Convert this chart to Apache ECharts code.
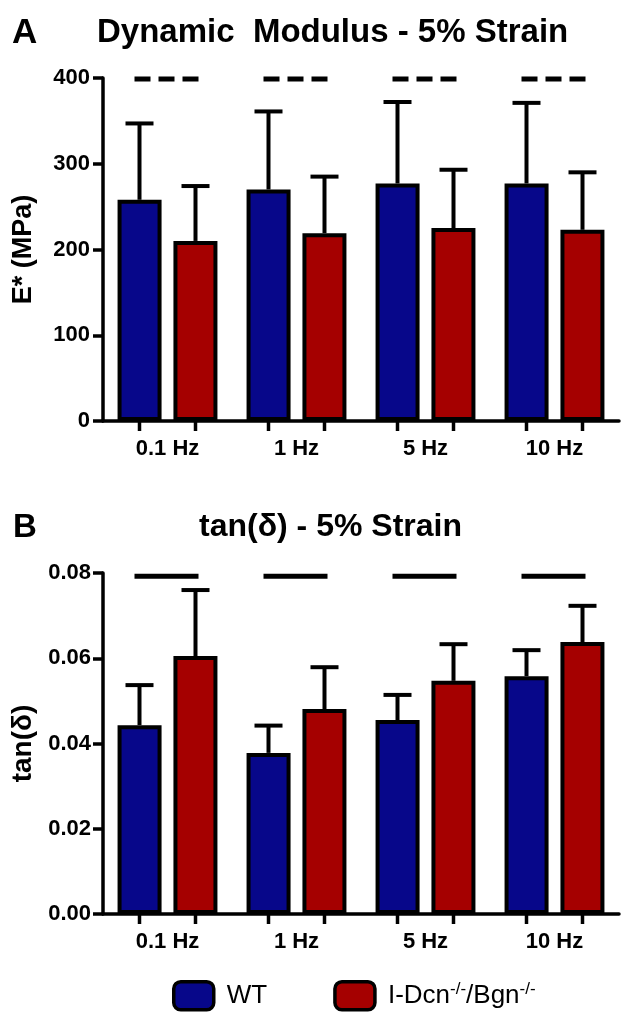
<!DOCTYPE html>
<html><head><meta charset="utf-8">
<script src="https://cdn.jsdelivr.net/npm/echarts@6/dist/echarts.min.js"></script>
<style>html,body{margin:0;padding:0;background:#fff}#c{width:638px;height:1020px}</style>
</head><body><div id="c"></div>
<script>
// ---------- data ----------
const categories = ['0.1 Hz', '1 Hz', '5 Hz', '10 Hz'];
const groupNames = ['WT', 'I-Dcn-/-/Bgn-/-'];
// Panel A: dynamic modulus E* (MPa), mean and SD
const modulusWT = [258, 270, 277, 277];
const modulusWTsd = [89, 91, 95, 94];
const modulusKO = [210, 219, 225, 223];
const modulusKOsd = [64, 66, 68, 67];
const modulusSig = [400, 400, 400, 400];
const modulusTicks = [0, 100, 200, 300, 400];
// Panel B: tan(delta), mean and SD
const tanWT = [0.0443, 0.0378, 0.0455, 0.0558];
const tanWTsd = [0.0094, 0.0064, 0.0059, 0.0061];
const tanKO = [0.0605, 0.0481, 0.0547, 0.0638];
const tanKOsd = [0.0155, 0.0098, 0.0086, 0.0085];
const tanSig = [0.0795, 0.0795, 0.0795, 0.0795];
const tanTicks = ['0.00', '0.02', '0.04', '0.06', '0.08'];

// ---------- style ----------
const FONT = '"Liberation Sans", Arial, sans-serif';
const BLUE = '#07078a';
const RED = '#a50000';
const BAR_W = 44;
const HALF = 28;   // px from category centre to bar centre

const chart = echarts.init(document.getElementById('c'));

function errRender(offset) {
  return function (params, api) {
    const i = api.value(0), m = api.value(1), sd = api.value(2);
    const b = api.coord([i, m]);
    const t = api.coord([i, m + sd]);
    const x = b[0] + offset;
    return {
      type: 'group',
      children: [
        { type: 'line', shape: { x1: x, y1: b[1], x2: x, y2: t[1] }, style: { stroke: '#000', lineWidth: 4 } },
        { type: 'line', shape: { x1: x - 14, y1: t[1], x2: x + 14, y2: t[1] }, style: { stroke: '#000', lineWidth: 4 } }
      ]
    };
  };
}
function sigRender(dashed) {
  return function (params, api) {
    const i = api.value(0), v = api.value(1);
    const p = api.coord([i, v]);
    return {
      type: 'line',
      shape: { x1: p[0] - 33, y1: p[1] + 1, x2: p[0] + 31, y2: p[1] + 1 },
      style: { stroke: '#000', lineWidth: 5, lineDash: dashed ? [16, 8] : null }
    };
  };
}
function tickRender(params, api) {
  const i = api.value(0);
  const p = api.coord([i, api.value(1)]);
  return {
    type: 'group',
    children: [-HALF, HALF].map(o => ({
      type: 'line', shape: { x1: p[0] + o, y1: p[1], x2: p[0] + o, y2: p[1] + 10 },
      style: { stroke: '#000', lineWidth: 3.5 }
    }))
  };
}

function panelSeries(idx, wt, wtsd, ko, kosd, sig, dashed, base) {
  const common = { xAxisIndex: idx, yAxisIndex: idx };
  return [
    Object.assign({ type: 'bar', name: groupNames[0], data: wt, barWidth: BAR_W, barGap: '27%',
      itemStyle: { color: BLUE, borderColor: '#000', borderWidth: 4 }, z: 3 }, common),
    Object.assign({ type: 'bar', name: groupNames[1], data: ko, barWidth: BAR_W, barGap: '27%',
      itemStyle: { color: RED, borderColor: '#000', borderWidth: 4 }, z: 3 }, common),
    Object.assign({ type: 'custom', renderItem: errRender(-HALF), z: 2,
      encode: { x: 0, y: 1 }, data: categories.map((c, i) => [i, wt[i], wtsd[i]]) }, common),
    Object.assign({ type: 'custom', renderItem: errRender(HALF), z: 2,
      encode: { x: 0, y: 1 }, data: categories.map((c, i) => [i, ko[i], kosd[i]]) }, common),
    Object.assign({ type: 'custom', renderItem: sigRender(dashed), z: 4,
      encode: { x: 0, y: 1 }, data: categories.map((c, i) => [i, sig[i]]) }, common),
    Object.assign({ type: 'custom', renderItem: tickRender, z: 4, clip: false,
      encode: { x: 0, y: 1 }, data: categories.map((c, i) => [i, base]) }, common)
  ];
}

const labelBase = { fontFamily: FONT, fontWeight: 'bold', color: '#000' };

function xAxisDef(grid) {
  return {
    type: 'category', gridIndex: grid, data: categories,
    axisLine: { lineStyle: { color: '#000', width: 3.5 } },
    axisTick: { show: false },
    axisLabel: Object.assign({ margin: 17, fontSize: 22 }, labelBase),
    splitLine: { show: false }
  };
}

const titleStyle = { fontFamily: FONT, fontWeight: 'bold', fontSize: 33, color: '#000' };

const option = {
  backgroundColor: '#fff',
  animation: false,
  title: [
    { text: 'A', left: 7, top: 11, textStyle: Object.assign({}, titleStyle, { fontSize: 35 }) },
    { text: 'Dynamic  Modulus - 5% Strain', left: 92, top: 11, textStyle: titleStyle },
    { text: 'B', left: 8, top: 506, textStyle: titleStyle },
    { text: 'tan(δ) - 5% Strain', left: 194, top: 506, textStyle: Object.assign({}, titleStyle, { fontSize: 32 }) }
  ],
  legend: {
    left: 167, top: 975, itemWidth: 40, itemHeight: 28, itemGap: 66,
    icon: 'roundRect',
    data: [
      { name: groupNames[0], itemStyle: { color: BLUE, borderColor: '#000', borderWidth: 3.5 } },
      { name: groupNames[1], itemStyle: { color: RED, borderColor: '#000', borderWidth: 3.5 } }
    ],
    formatter: function (name) {
      if (name === groupNames[0]) return '{n|WT}';
      return '{n|I-Dcn}{s|-/-}{n|/Bgn}{s|-/-}';
    },
    textStyle: {
      rich: {
        n: { fontFamily: FONT, fontSize: 26, color: '#000', lineHeight: 30 },
        s: { fontFamily: FONT, fontSize: 17, color: '#000', lineHeight: 30, verticalAlign: 'top', padding: [0, 0, 12, 0] }
      },
      padding: [0, 0, 0, 8]
    }
  },
  grid: [
    { left: 103, right: 19, top: 78, bottom: 599, outerBoundsMode: 'none', containLabel: false },
    { left: 103, right: 19, top: 573, bottom: 106, outerBoundsMode: 'none', containLabel: false }
  ],
  xAxis: [xAxisDef(0), xAxisDef(1)],
  yAxis: [
    {
      type: 'value', gridIndex: 0, min: 0, max: 400, interval: 100,
      name: 'E* (MPa)', nameLocation: 'middle', nameGap: 66,
      nameTextStyle: { fontFamily: FONT, fontWeight: 'bold', fontSize: 27, color: '#000' },
      axisLine: { show: true, lineStyle: { color: '#000', width: 3.5 } },
      axisTick: { show: true, length: 10, lineStyle: { color: '#000', width: 3.5 } },
      axisLabel: Object.assign({ margin: 13, fontSize: 22, formatter: (v) => String(modulusTicks[Math.round(v / 100)]) }, labelBase),
      splitLine: { show: false }
    },
    {
      type: 'value', gridIndex: 1, min: 0, max: 0.08, interval: 0.02,
      name: 'tan(δ)', nameLocation: 'middle', nameGap: 62,
      nameTextStyle: { fontFamily: FONT, fontWeight: 'bold', fontSize: 28, color: '#000' },
      axisLine: { show: true, lineStyle: { color: '#000', width: 3.5 } },
      axisTick: { show: true, length: 10, lineStyle: { color: '#000', width: 3.5 } },
      axisLabel: Object.assign({ margin: 12, fontSize: 22, formatter: (v) => tanTicks[Math.round(v / 0.02)] }, labelBase),
      splitLine: { show: false }
    }
  ],
  series: [].concat(
    panelSeries(0, modulusWT, modulusWTsd, modulusKO, modulusKOsd, modulusSig, true, 0),
    panelSeries(1, tanWT, tanWTsd, tanKO, tanKOsd, tanSig, false, 0)
  )
};
chart.setOption(option);
</script>
</body></html>
